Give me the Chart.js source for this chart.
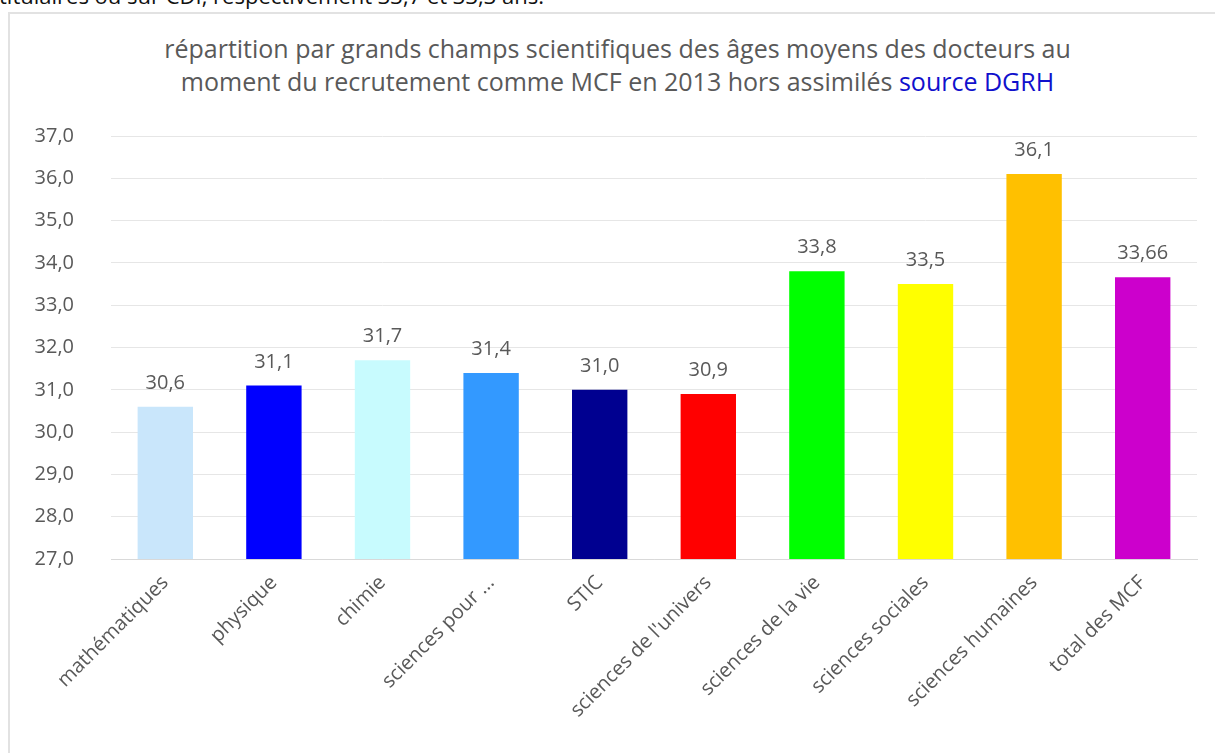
<!DOCTYPE html>
<html>
<head>
    <title>Âges moyens des docteurs recrutés MCF en 2013</title>
    <script src="https://cdn.jsdelivr.net/npm/chart.js"></script>
    <style>
        body { margin: 0; width: 1215px; height: 753px; overflow: hidden; background: #fff; font-family: 'Open Sans', sans-serif; position: relative; }
        #above { position: absolute; left: -1px; top: -20px; font-size: 22px; color: #111; white-space: nowrap; }
        #box { position: absolute; left: 8px; top: 12px; width: 1220px; height: 760px; border-left: 2px solid #e2e2e2; border-top: 2px solid #e2e2e2; }
        #title { position: absolute; left: 10px; top: 32px; width: 1215px; text-align: center; font-size: 25px; line-height: 33px; color: #595959; }
        #title .src { color: #1010cc; }
        #wrap { position: absolute; left: 10px; top: 14px; width: 1205px; height: 739px; }
    </style>
</head>
<body>
    <div id="above">titulaires ou sur CDI, respectivement 33,7 et 33,3 ans.</div>
    <div id="box"></div>
    <div id="title">répartition par grands champs scientifiques des âges moyens des docteurs au<br>moment du recrutement comme MCF en 2013 hors assimilés <span class="src">source DGRH</span></div>
    <div id="wrap"><canvas id="barChart"></canvas></div>
    <script>
        // valeurs
        const champs = ['mathématiques', 'physique', 'chimie', 'sciences pour ...', 'STIC',
            "sciences de l'univers", 'sciences de la vie', 'sciences sociales', 'sciences humaines', 'total des MCF'];
        const agesMoyens = [30.6, 31.1, 31.7, 31.4, 31.0, 30.9, 33.8, 33.5, 36.1, 33.66];
        const couleurs = ['#c9e6fb', '#0000ff', '#c8fbfe', '#3399ff', '#000090',
            '#ff0000', '#00ff00', '#ffff00', '#ffc000', '#cc00cc'];
        const yMin = 27, yMax = 37;

        const fmt = v => v.toLocaleString('fr-FR', { minimumFractionDigits: 1 });

        // étiquettes de valeur au-dessus des barres
        const valueLabels = {
            id: 'valueLabels',
            afterDatasetsDraw(chart) {
                const ctx = chart.ctx;
                const meta = chart.getDatasetMeta(0);
                ctx.save();
                ctx.font = '20px "Open Sans"';
                ctx.fillStyle = '#595959';
                ctx.textAlign = 'center';
                ctx.textBaseline = 'alphabetic';
                meta.data.forEach((bar, i) => {
                    ctx.fillText(fmt(agesMoyens[i]), bar.x, bar.y - 18);
                });
                ctx.restore();
            }
        };

        const ctx = document.getElementById('barChart').getContext('2d');
        new Chart(ctx, {
            type: 'bar',
            data: {
                labels: champs,
                datasets: [{
                    data: agesMoyens,
                    backgroundColor: couleurs,
                    barPercentage: 0.51,
                    categoryPercentage: 1
                }]
            },
            plugins: [valueLabels],
            options: {
                responsive: true,
                maintainAspectRatio: false,
                animation: false,
                layout: { padding: { top: 122, right: 18, bottom: 0, left: 0 } },
                plugins: {
                    legend: { display: false },
                    title: { display: false },
                    tooltip: { enabled: false }
                },
                scales: {
                    x: {
                        grid: { display: false, drawTicks: false },
                        border: { display: true, color: '#d9d9d9' },
                        ticks: {
                            color: '#595959',
                            font: { family: 'Open Sans', size: 20 },
                            minRotation: 45,
                            maxRotation: 45,
                            padding: 12
                        },
                        afterFit(scale) { scale.height = 194; }
                    },
                    y: {
                        min: yMin,
                        max: yMax,
                        grid: { color: '#e6e6e6', drawTicks: false },
                        border: { display: false },
                        ticks: {
                            stepSize: 1,
                            color: '#595959',
                            font: { family: 'Open Sans', size: 20 },
                            padding: 37,
                            callback: v => v.toFixed(1).replace('.', ',')
                        },
                        afterFit(scale) { scale.width = 101; }
                    }
                }
            }
        });
    </script>
</body>
</html>
